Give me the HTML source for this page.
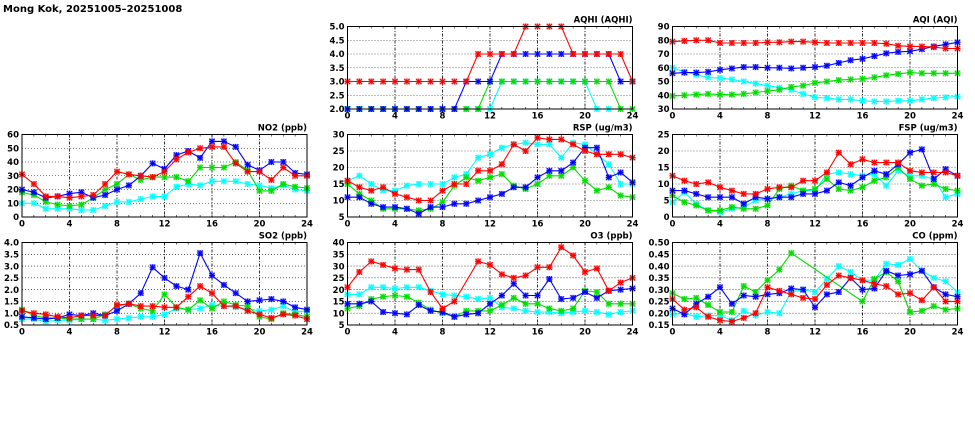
<!DOCTYPE html>
<html><head><meta charset="utf-8"><style>
html,body{margin:0;padding:0;background:#fff;}
svg{display:block;font-family:"DejaVu Sans","Liberation Sans",sans-serif;}
</style></head><body>
<svg id="c" width="975" height="447" viewBox="0 0 975 447">
<text x="3" y="12" font-size="10" font-weight="bold">Mong Kok, 20251005–20251008</text>
</svg>
<script>
const hours = [0,1,2,3,4,5,6,7,8,9,10,11,12,13,14,15,16,17,18,19,20,21,22,23,24];
const xTicks = [0,4,8,12,16,20,24];
const seriesColors = ['#00ffff','#00dd00','#0000ff','#ff0000'];
const seriesNames = ['cyan','green','blue','red'];

const aqhiCyan  = [2,2,2,2,2,2,2,2,2,2,2,2,2,3,3,3,3,3,3,3,3,2,2,null,null];
const aqhiGreen = [2,2,2,2,2,2,2,2,2,2,2,2,3,3,3,3,3,3,3,3,3,3,3,2,2];
const aqhiBlue  = [2,2,2,2,2,2,2,2,2,2,3,3,3,4,4,4,4,4,4,4,4,4,4,3,3];
const aqhiRed   = [3,3,3,3,3,3,3,3,3,3,3,4,4,4,4,5,5,5,5,4,4,4,4,4,3];
const aqhiTicks = [2.0,2.5,3.0,3.5,4.0,4.5,5.0];

const aqiCyan  = [60,57,55,53,52.5,51.5,50,48.5,47,45.5,44,41,38.5,38,37,37,36,35.5,35.5,36,36,37,38,38.5,39];
const aqiGreen = [39.5,40,40.5,41,40.5,40.5,41,42,43,44,46,47,49,50,51,51.5,52,53,54.5,55.5,56.5,56,56,56,56];
const aqiBlue  = [56,56.5,56.5,57,58.5,59.5,60.5,60.5,60,60,59.5,60,60.5,61.5,63.5,65.5,66.5,68.5,70.5,71.5,72,73.5,75.5,77,78.5];
const aqiRed   = [79,79.5,80,80,78,78,78,78,78.5,78.5,79,79,78.5,78,78,78,78,78,77.5,76,75.5,75.5,75,74,74];
const aqiTicks = [30,40,50,60,70,80,90];

const no2Cyan  = [10,10,6,6,6,5,5,8,11,11,13,15,15,22,24,23,26,26,26,24,23,21,23,20,19];
const no2Green = [18,16,11,9,8,9,14,20,24,31,27,29,29,29,26,36,36,36,40,34,19,19,24,22,21];
const no2Blue  = [20,18,14,15,17,18,14,16,20,23,30,39,35,45,48,43,55,55,51,38,34,40,40,32,31];
const no2Red   = [31,24,15,15,14,15,16,24,33,31,30,29,33,42,47,50,51,51,39,33,33,27,36,30,30];
const no2Ticks = [0,10,20,30,40,50,60];

const rspCyan  = [16,17.5,15,13,13,14.5,15,15,15,17,18,23,24,26,27,27.5,27,27,23,27.5,27,24,21,15,15];
const rspGreen = [15,12,10,7.5,7.5,7.5,7,7.5,9.5,14.5,17,16,17,18,14.5,13.5,15,17.5,17.5,20,16,13,14,11.5,11];
const rspBlue  = [11,11,9,8,8,7.5,6,8,8,9,9,10,11,12,14,14,17,19,19,21.5,26,26,17,18.5,15.5];
const rspRed   = [16,14,13,14,12,11,10,10,13,15,15,19,19,21,27,25,29,28.5,28.5,27,25,24,24,24,23];
const rspTicks = [5,10,15,20,25,30];

const fspCyan  = [4.5,7.5,4,2,1.5,2.5,3,5,5.5,6,7,8,8,13,13.5,13,12.5,13,9.5,14,12.5,12.5,11.5,6,7];
const fspGreen = [6.5,4.5,3.5,2,2,3,2.5,2.5,3.5,8.5,9.5,8,8.5,11.5,8.5,8,9,11,12,15,11.5,9.5,10,8.5,8];
const fspBlue  = [8,8,7,6,6,6,4,6,5.5,6,6,7,7,8,10.5,9.5,12,14,13,16,19.5,20.5,11.5,14.5,12.5];
const fspRed   = [12.5,11,10,10.5,9,8,7,7,8.5,9,9,11,11,13.5,19.5,16,17.5,16.5,16.5,16.5,14,13.5,13.5,13.5,12.5];
const fspTicks = [0,5,10,15,20,25];

const so2Cyan  = [0.75,0.75,0.65,0.7,0.7,0.75,0.75,0.7,0.75,0.8,0.85,0.85,0.95,1.2,1.15,1.2,1.35,1.3,1.25,1.2,1.1,1.15,1.3,1.05,1.1];
const so2Green = [1.15,0.9,0.8,0.8,0.75,0.75,0.75,0.95,1.3,1.4,1.2,1.1,1.8,1.25,1.15,1.55,1.2,1.5,1.35,1.3,0.85,0.75,1.0,0.95,0.85];
const so2Blue  = [0.85,0.8,0.75,0.8,0.95,0.9,1.0,0.9,1.1,1.4,1.85,2.95,2.5,2.15,2.0,3.55,2.6,2.2,1.85,1.5,1.55,1.6,1.5,1.25,1.15];
const so2Red   = [1.1,1.0,0.95,0.85,0.8,0.9,0.9,0.9,1.35,1.4,1.3,1.3,1.25,1.25,1.7,2.15,1.85,1.3,1.3,1.1,0.95,0.8,0.95,0.9,0.75];
const so2Ticks = [0.5,1.0,1.5,2.0,2.5,3.0,3.5,4.0];

const o3Cyan  = [18,18,21,21,20.5,21,21,19.5,18,17.5,17,16,16.5,12.5,12,11,10.5,10.5,10,10.5,11,10.5,9.5,10.5,11];
const o3Green = [12,13,16,17,17.5,17,14.5,11.5,10,8.5,11,11,11,13.5,16.5,14,14,12,11,12,19.5,19,14,14,14];
const o3Blue  = [14,14,15,10.5,10,9.5,13.5,11,10.5,8.5,9.5,10,14,17.5,22.5,17.5,17.5,24.5,16,16.5,19,16.5,19.5,20,20.5];
const o3Red   = [21,27.5,32,30.5,29,28.5,28.5,19,12,15,null,32,30.5,26.5,25,26,29.5,29.5,38,34.5,27.5,29,19.5,23,25];
const o3Ticks = [5,10,15,20,25,30,35,40];

const coCyan  = [0.195,0.2,0.185,0.19,0.19,0.17,0.21,0.19,0.205,0.2,0.29,0.3,0.29,0.345,0.4,0.375,0.34,0.34,0.41,0.405,0.43,0.38,0.35,0.335,0.29];
const coGreen = [0.285,0.26,0.265,0.235,0.205,0.205,0.315,0.29,0.34,0.385,0.455,null,null,null,null,null,0.25,0.345,0.375,0.335,0.205,0.21,0.23,0.215,0.22];
const coBlue  = [0.22,0.195,0.24,0.27,0.31,0.24,0.275,0.27,0.28,0.285,0.305,0.3,0.225,0.28,0.29,0.35,0.3,0.305,0.38,0.36,0.365,0.38,0.31,0.28,0.27];
const coRed   = [0.26,0.215,0.225,0.185,0.17,0.165,0.18,0.2,0.31,0.295,0.28,0.265,0.26,0.32,0.36,0.35,0.34,0.325,0.315,0.28,0.285,0.255,0.31,0.25,0.25];
const coTicks = [0.15,0.20,0.25,0.30,0.35,0.40,0.45,0.50];

const NS='http://www.w3.org/2000/svg';
const svg=document.getElementById('c');
function mk(tag,attrs,parent){const e=document.createElementNS(NS,tag);for(const k in attrs)e.setAttribute(k,attrs[k]);(parent||svg).appendChild(e);return e;}

function panel(key,title,x0,y0,ticks,dec,series){
  const W=285,H=82.5;
  const g=mk('g',{});
  
  
  const ymin=ticks[0],ymax=ticks[ticks.length-1];
  const sx=v=>x0+v/24*W;
  const sy=v=>y0+H-(v-ymin)/(ymax-ymin)*H;
  ticks.forEach(t=>{
    if(t===ymin||t===ymax)return;
    const l=mk('line',{x1:x0,x2:x0+W,y1:sy(t),y2:sy(t),stroke:'#000','stroke-width':0.6,'stroke-dasharray':'1,2'},g);
    
    
  });
  xTicks.forEach(t=>{
    if(t===0||t===24)return;
    const l=mk('line',{x1:sx(t),x2:sx(t),y1:y0,y2:y0+H,stroke:'#000','stroke-width':0.8,'stroke-dasharray':'3,1.5,1,1.5'},g);
    
    
  });
  hours.forEach(h=>{
    mk('line',{x1:sx(h),x2:sx(h),y1:y0+H,y2:y0+H-2,stroke:'#000','stroke-width':0.6},g);
    mk('line',{x1:sx(h),x2:sx(h),y1:y0,y2:y0+2,stroke:'#000','stroke-width':0.6},g);
  });
  ticks.forEach(t=>{
    const tx=mk('text',{x:x0-3,y:sy(t)+3.2,'font-size':8.5,'font-weight':'bold','text-anchor':'end'},g);
    tx.textContent=t.toFixed(dec);
    
    
  });
  xTicks.forEach(t=>{
    const tx=mk('text',{x:sx(t),y:y0+H+9.5,'font-size':8.5,'font-weight':'bold','text-anchor':'middle'},g);
    tx.textContent=String(t);
    
    
  });
  const tt=mk('text',{x:x0+W,y:y0-4,'font-size':8.5,'font-weight':'bold','text-anchor':'end'},g);
  tt.textContent=title;
  
  
  const cid='clip-'+key;
  const cp=mk('clipPath',{id:cid},g);
  mk('rect',{x:x0-4,y:y0-4,width:W+8,height:H+8},cp);
  series.forEach((vals,si)=>{
    const col=seriesColors[si];
    const sg=mk('g',{'clip-path':'url(#'+cid+')'},g);
    
    
    let d='',pen=false;
    vals.forEach((v,i)=>{
      if(v===null)return;
      d+=(pen?'L':'M')+sx(hours[i]).toFixed(1)+','+sy(v).toFixed(1);
      pen=true;
    });
    const p=mk('path',{d:d,fill:'none',stroke:col,'stroke-width':1.1},sg);
    
    
    vals.forEach((v,i)=>{
      if(v===null)return;
      const cx=sx(hours[i]),cy=sy(v),r=2.6;
      const m=mk('g',{},sg);
      
      
      mk('rect',{x:cx-3,y:cy-3,width:6,height:6,fill:col,'fill-opacity':0.35},m);
      mk('path',{d:`M${cx-r},${cy-r}L${cx+r},${cy+r}M${cx-r},${cy+r}L${cx+r},${cy-r}M${cx},${cy-r-0.4}L${cx},${cy+r+0.4}M${cx-r-0.4},${cy}L${cx+r+0.4},${cy}`,stroke:col,'stroke-width':1.1},m);
    });
  });
  const fr=mk('rect',{x:x0,y:y0,width:W,height:H,fill:'none',stroke:'#000','stroke-width':1},g);
  
  
}
const c1=22,c2=347.5,c3=672.5,r1=26.5,r2=134.5,r3=242.5;
panel('aqhi','AQHI (AQHI)',c2,r1,aqhiTicks,1,[aqhiCyan,aqhiGreen,aqhiBlue,aqhiRed]);
panel('aqi','AQI (AQI)',c3,r1,aqiTicks,0,[aqiCyan,aqiGreen,aqiBlue,aqiRed]);
panel('no2','NO2 (ppb)',c1,r2,no2Ticks,0,[no2Cyan,no2Green,no2Blue,no2Red]);
panel('rsp','RSP (ug/m3)',c2,r2,rspTicks,0,[rspCyan,rspGreen,rspBlue,rspRed]);
panel('fsp','FSP (ug/m3)',c3,r2,fspTicks,0,[fspCyan,fspGreen,fspBlue,fspRed]);
panel('so2','SO2 (ppb)',c1,r3,so2Ticks,1,[so2Cyan,so2Green,so2Blue,so2Red]);
panel('o3','O3 (ppb)',c2,r3,o3Ticks,0,[o3Cyan,o3Green,o3Blue,o3Red]);
panel('co','CO (ppm)',c3,r3,coTicks,2,[coCyan,coGreen,coBlue,coRed]);
</script>
</body></html>
